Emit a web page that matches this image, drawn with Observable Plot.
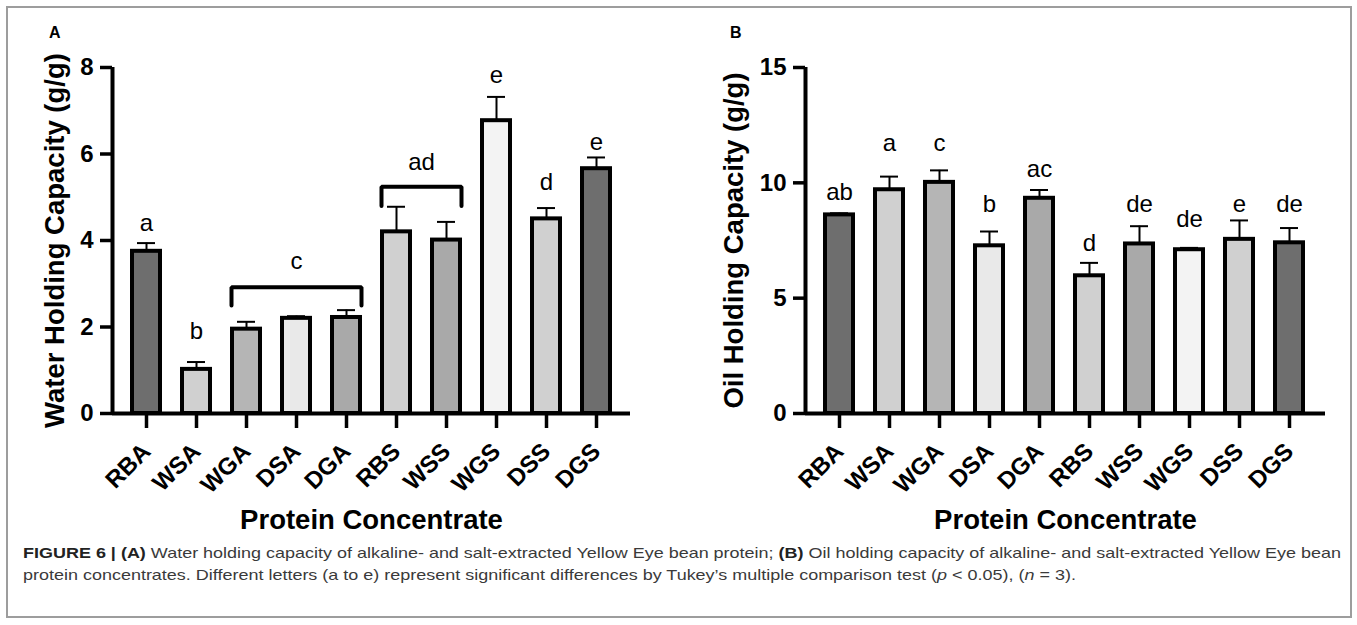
<!DOCTYPE html>
<html>
<head>
<meta charset="utf-8">
<script src="https://cdn.jsdelivr.net/npm/d3@7"></script>
<script src="https://cdn.jsdelivr.net/npm/@observablehq/plot@0.6"></script>
<style>
  html, body { margin: 0; padding: 0; background: #fff; }
  body { width: 1357px; height: 625px; overflow: hidden; position: relative;
         font-family: "Liberation Sans", Arial, Helvetica, sans-serif; }
  #frame { position: absolute; left: 6px; top: 6px; width: 1342px; height: 608px;
           border: 2px solid #9d9d9d; }
  .panel { position: absolute; top: 0; }
  .plabel { position: absolute; font-weight: bold; font-size: 16px; line-height: 16px; color: #000; }
  #caption { position: absolute; left: 23px; top: 542px; font-size: 14.5px; line-height: 22px;
             color: #3a3a3a; white-space: nowrap; transform-origin: 0 0;
             font-family: "Liberation Sans Narrow", "Liberation Sans", Arial, sans-serif; }
  #caption b { color: #222; }
</style>
</head>
<body>
<div id="frame"></div>
<div id="panelA" class="panel" style="left:0px"></div>
<div id="panelB" class="panel" style="left:693px"></div>
<div class="plabel" style="left:49px; top:25px">A</div>
<div class="plabel" style="left:730px; top:25px">B</div>
<div id="caption"><div id="cap1"><b>FIGURE 6 | (A)</b> Water holding capacity of alkaline- and salt-extracted Yellow Eye bean protein; <b>(B)</b> Oil holding capacity of alkaline- and salt-extracted Yellow Eye bean</div><div id="cap2">protein concentrates. Different letters (a to e) represent significant differences by Tukey’s multiple comparison test (<i>p</i> &lt; 0.05), (<i>n</i> = 3).</div></div>
<script>
// ---------------- data ----------------
const categories = ["RBA", "WSA", "WGA", "DSA", "DGA", "RBS", "WSS", "WGS", "DSS", "DGS"];

const waterMean = [3.75, 1.02, 1.95, 2.20, 2.22, 4.20, 4.01, 6.77, 4.50, 5.66];
const waterErr  = [0.19, 0.17, 0.17, 0.05, 0.17, 0.58, 0.42, 0.55, 0.25, 0.26];

const oilMean = [8.61, 9.70, 10.02, 7.27, 9.33, 5.97, 7.35, 7.10, 7.55, 7.40];
const oilErr  = [0.07, 0.57, 0.52, 0.62, 0.36, 0.56, 0.77, 0.08, 0.82, 0.64];

const waterTicks = [0, 2, 4, 6, 8];
const oilTicks = [0, 5, 10, 15];

// significance letters (text, first/last category covered, vertical position in data units)
const waterLetterText = ["a", "b", "c", "ad", "e", "d", "e"];
const waterLetterFrom = ["RBA", "WSA", "WGA", "RBS", "WGS", "DSS", "DGS"];
const waterLetterTo   = ["RBA", "WSA", "DGA", "WSS", "WGS", "DSS", "DGS"];
const waterLetterY    = [4.40, 1.91, 3.51, 5.81, 7.83, 5.35, 6.27];

const oilLetterText = ["ab", "a", "c", "b", "ac", "d", "de", "de", "e", "de"];
const oilLetterFrom = ["RBA", "WSA", "WGA", "DSA", "DGA", "RBS", "WSS", "WGS", "DSS", "DGS"];
const oilLetterTo   = oilLetterFrom;
const oilLetterY    = [9.60, 11.73, 11.73, 9.06, 10.58, 7.37, 9.06, 8.41, 9.06, 9.06];

// brackets grouping bars (panel A)
const waterBracketFrom = ["WGA", "RBS"];
const waterBracketTo   = ["DGA", "WSS"];
const waterBracketTop  = [2.92, 5.24];
const waterBracketEnd  = [2.50, 4.80];

// ---------------- style ----------------
const barFills = ["#6e6e6e", "#d0d0d0", "#b5b5b5", "#e9e9e9", "#a9a9a9",
                  "#d0d0d0", "#a9a9a9", "#f3f3f3", "#d0d0d0", "#6e6e6e"];
const FONT = "'Liberation Sans', Arial, Helvetica, sans-serif";

function panel({mean, err, ticks, yMax, yLabel, letterText, letterFrom, letterTo, letterY,
                bracketFrom = [], bracketTo = [], bracketTop = [], bracketEnd = [],
                width, marginRight, xMax, titleDx}) {
  const idx = c => categories.indexOf(c);
  const bars = categories.map((c, i) => ({c, i, v: mean[i], e: err[i], fill: barFills[i]}));
  const letters = letterText.map((t, k) => ({t, x: (idx(letterFrom[k]) + idx(letterTo[k])) / 2, y: letterY[k]}));
  const bracketPts = [];
  bracketFrom.forEach((f, k) => {
    const a = idx(f) - 0.30, b = idx(bracketTo[k]) + 0.30;
    bracketPts.push({k, x: a, y: bracketEnd[k]}, {k, x: a, y: bracketTop[k]},
                    {k, x: b, y: bracketTop[k]}, {k, x: b, y: bracketEnd[k]});
  });
  return Plot.plot({
    width, height: 560,
    marginTop: 67, marginBottom: 147, marginLeft: 112, marginRight,
    x: {type: "linear", domain: [-0.68, xMax], axis: null},
    y: {domain: [0, yMax], axis: null},
    color: {type: "identity"},
    style: {background: "transparent", color: "#000", fontFamily: FONT, overflow: "visible"},
    marks: [
      Plot.rectY(bars, {x1: d => d.i - 0.28, x2: d => d.i + 0.28, y1: 0, y2: "v",
                        fill: "fill", stroke: "#000", strokeWidth: 4}),
      Plot.ruleX(bars, {x: "i", y1: "v", y2: d => d.v + d.e, stroke: "#000", strokeWidth: 2}),
      Plot.ruleY(bars, {x1: d => d.i - 0.18, x2: d => d.i + 0.18, y: d => d.v + d.e, stroke: "#000", strokeWidth: 2}),
      Plot.ruleY([0], {stroke: "#000", strokeWidth: 4}),
      Plot.ruleX([-0.68], {y1: 0, y2: yMax, stroke: "#000", strokeWidth: 4}),
      Plot.axisY({ticks, tickSize: 12, tickPadding: 7, strokeWidth: 3.5, fontSize: 24,
                  fontWeight: "bold", label: null}),
      Plot.axisX({ticks: categories.map((c, i) => i), tickFormat: i => categories[i],
                  tickSize: 15, tickPadding: 19, strokeWidth: 3.5, tickRotate: -45,
                  fontSize: 24, fontWeight: "bold", label: null}),
      Plot.text([yLabel], {frameAnchor: "left", textAnchor: "middle", rotate: -90, dx: titleDx,
                           fontSize: 27.5, fontWeight: "bold"}),
      Plot.text(["Protein Concentrate"], {frameAnchor: "bottom", dy: 115, fontSize: 27.5, fontWeight: "bold"}),
      Plot.line(bracketPts, {x: "x", y: "y", z: "k", stroke: "#000", strokeWidth: 4,
                             strokeLinecap: "round", strokeLinejoin: "miter"}),
      Plot.text(letters, {x: "x", y: "y", text: "t", fontSize: 24, fill: "#000"})
    ]
  });
}

document.getElementById("panelA").append(panel({
  mean: waterMean, err: waterErr, ticks: waterTicks, yMax: 8,
  yLabel: "Water Holding Capacity (g/g)",
  letterText: waterLetterText, letterFrom: waterLetterFrom, letterTo: waterLetterTo, letterY: waterLetterY,
  bracketFrom: waterBracketFrom, bracketTo: waterBracketTo, bracketTop: waterBracketTop, bracketEnd: waterBracketEnd,
  width: 680, marginRight: 50, xMax: 9.68, titleDx: -57
}));

document.getElementById("panelB").append(panel({
  mean: oilMean, err: oilErr, ticks: oilTicks, yMax: 15,
  yLabel: "Oil Holding Capacity (g/g)",
  letterText: oilLetterText, letterFrom: oilLetterFrom, letterTo: oilLetterTo, letterY: oilLetterY,
  width: 664, marginRight: 32, xMax: 9.72, titleDx: -71
}));

// fit caption first line to the frame width (condensed look)
(function () {
  const cap = document.getElementById("caption");
  const l1 = document.getElementById("cap1");
  const w = l1.getBoundingClientRect().width;
  const target = 1318;
  cap.style.transform = `scaleX(${target / w})`;
})();
</script>
</body>
</html>
